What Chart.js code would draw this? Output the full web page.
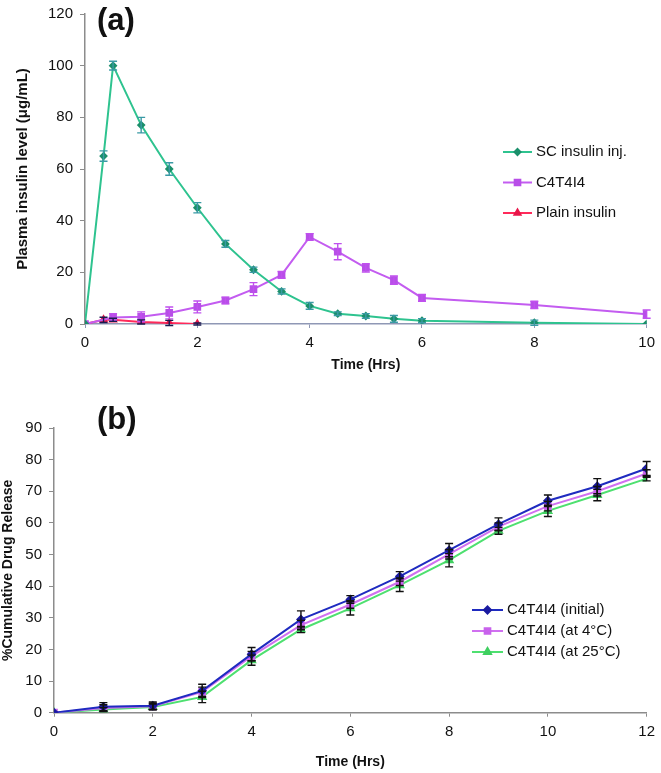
<!DOCTYPE html>
<html>
<head>
<meta charset="utf-8">
<script src="https://cdn.jsdelivr.net/npm/chart.js@4.4.1/dist/chart.umd.min.js"></script>
<style>
  body { margin: 0; background: #fff; width: 661px; height: 773px; overflow: hidden; position: relative; }
  #chartA { position: absolute; left: 0; top: -2px; }
  #chartB { position: absolute; left: 0; top: 380px; }
</style>
</head>
<body>
<canvas id="chartA" width="661" height="382"></canvas>
<canvas id="chartB" width="661" height="393"></canvas>
<script>
// ---- (a) plasma insulin data ----
const scTime    = [0, 0.33, 0.5, 1, 1.5, 2, 2.5, 3, 3.5, 4, 4.5, 5, 5.5, 6, 8, 10];
const scLevel   = [0, 65, 100, 77, 60, 45, 31, 21, 12.6, 7, 4, 3.1, 2, 1.3, 0.5, 0];
const scErr     = [0, 2, 1.7, 3, 2.4, 2, 1.3, 1, 1, 1.3, 0.7, 0.9, 1.3, 0.8, 1, 0];

const c4Time    = [0, 0.5, 1, 1.5, 2, 2.5, 3, 3.5, 4, 4.5, 5, 5.5, 6, 8, 10];
const c4Level   = [0, 2.5, 2.8, 4.3, 6.6, 9.1, 13.5, 19, 33.7, 28, 21.7, 17, 10.1, 7.4, 3.8];
const c4Err     = [0, 1.5, 1.9, 2.3, 2.3, 1.3, 2.5, 1.3, 1.3, 3.1, 1.6, 1.6, 1.3, 1.4, 1.6];

const plainTime  = [0, 0.33, 0.5, 1, 1.5, 2];
const plainLevel = [0, 1.6, 1.6, 0.8, 0.4, 0];
const plainErr   = [0, 1, 0.6, 0.8, 1, 0.4];

// ---- (b) release data ----
const relTime    = [0, 1, 2, 3, 4, 5, 6, 7, 8, 9, 10, 11, 12];
const relInitial = [0, 1.9, 2.2, 6.9, 18.5, 29.5, 35.8, 43.1, 51.4, 59.6, 67, 71.6, 77.2];
const relAt4     = [0, 1.5, 2, 6.6, 17.9, 27.7, 34.2, 41.4, 50.1, 58.8, 65.3, 70, 75.6];
const relAt25    = [0, 1, 1.8, 5, 16.6, 26.3, 33, 40.3, 48.2, 57.5, 63.8, 68.8, 74];
const errInitial = [0, 1.3, 1.2, 2.1, 2.1, 2.7, 1.2, 1.5, 2.1, 2, 1.8, 2.4, 2.2];
const err4       = [0, 1, 1, 1.5, 1.5, 1.5, 1.2, 1.2, 1.5, 1.2, 1.5, 1.5, 1.2];
const err25      = [0, 0.6, 0.9, 1.8, 1.6, 1, 2.1, 2, 2.1, 1.1, 1.8, 1.8, 0.7];

const FONT = "'Liberation Sans', Arial, sans-serif";

function pts(xs, ys) {
  return xs.map((x, i) => ({ x: x, y: ys[i] }));
}

// Felstaplar ritade med diagrammets egna skalor
const errorBars = {
  id: 'errorBars',
  afterDatasetsDraw(chart) {
    const { ctx, scales: { x, y } } = chart;
    chart.data.datasets.forEach(ds => {
      if (!ds.errors) return;
      ctx.save();
      ctx.strokeStyle = ds.errorColor;
      ctx.lineWidth = 1.4;
      ds.data.forEach((p, i) => {
        const e = ds.errors[i];
        if (!e) return;
        const px = x.getPixelForValue(p.x);
        const top = y.getPixelForValue(p.y + e);
        const bot = y.getPixelForValue(p.y - e);
        ctx.beginPath();
        ctx.moveTo(px, top); ctx.lineTo(px, bot);
        ctx.moveTo(px - 4, top); ctx.lineTo(px + 4, top);
        ctx.moveTo(px - 4, bot); ctx.lineTo(px + 4, bot);
        ctx.stroke();
      });
      ctx.restore();
    });
  }
};

// Egen legend + panelbokstav
const sideLegend = {
  id: 'sideLegend',
  afterDraw(chart, args, opts) {
    const ctx = chart.ctx;
    ctx.save();
    chart.data.datasets.forEach((ds, i) => {
      const y = opts.y + i * opts.gap;
      ctx.strokeStyle = ds.borderColor;
      ctx.lineWidth = 2;
      ctx.beginPath();
      ctx.moveTo(opts.x, y); ctx.lineTo(opts.x + opts.len, y);
      ctx.stroke();
      ctx.fillStyle = ds.pointBackgroundColor;
      ctx.strokeStyle = ds.pointBackgroundColor;
      Chart.helpers.drawPoint(ctx, {
        pointStyle: ds.pointStyle, radius: ds.pointRadius, rotation: 0, borderWidth: 1
      }, opts.x + opts.len / 2, y);
      ctx.fillStyle = '#111';
      ctx.font = '15px ' + FONT;
      ctx.textBaseline = 'middle';
      ctx.fillText(ds.label, opts.x + opts.len + 4, y);
    });
    ctx.font = 'bold 31px ' + FONT;
    ctx.fillStyle = '#111';
    ctx.textBaseline = 'middle';
    ctx.fillText(opts.panel, opts.px, opts.py);
    ctx.restore();
  }
};

function axes(xMax, yMax, yStep, xHeight, yWidth, axisColor, yTitle, yTitleSize, yTitlePad, xTitlePad) {
  return {
    x: {
      type: 'linear', min: 0, max: xMax,
      ticks: { stepSize: 2, color: '#111', font: { size: 15, family: FONT }, padding: 6, maxRotation: 0 },
      grid: { display: true, drawOnChartArea: false, drawTicks: true, tickLength: 4, color: axisColor },
      border: { color: axisColor, width: 1.5 },
      title: { display: true, text: 'Time (Hrs)', color: '#111',
               font: { size: 14, weight: 'bold', family: FONT }, padding: { top: 0, bottom: xTitlePad } },
      afterFit: s => { s.height = xHeight; }
    },
    y: {
      min: 0, max: yMax,
      ticks: { stepSize: yStep, color: '#111', font: { size: 15, family: FONT }, padding: 7 },
      grid: { display: true, drawOnChartArea: false, drawTicks: true, tickLength: 5, color: '#8c8c8c' },
      border: { color: '#8c8c8c', width: 1.5 },
      title: { display: true, text: yTitle, color: '#111',
               font: { size: yTitleSize, weight: 'bold', family: FONT }, padding: { top: yTitlePad, bottom: 0 } },
      afterFit: s => { s.width = yWidth; }
    }
  };
}

new Chart(document.getElementById('chartA'), {
  type: 'scatter',
  data: {
    datasets: [
      {
        label: 'SC insulin inj.', data: pts(scTime, scLevel), errors: scErr, errorColor: '#3a9aa5',
        showLine: true, borderColor: '#2ec38f', borderWidth: 2,
        pointStyle: 'rectRot', pointRadius: 3, pointBackgroundColor: '#1b8f6b', pointBorderColor: '#1b8f6b'
      },
      {
        label: 'C4T4I4', data: pts(c4Time, c4Level), errors: c4Err, errorColor: '#c050ee',
        showLine: true, borderColor: '#c35cf0', borderWidth: 2,
        pointStyle: 'rect', pointRadius: 4, pointBackgroundColor: '#b84ee8', pointBorderColor: '#b84ee8'
      },
      {
        label: 'Plain insulin', data: pts(plainTime, plainLevel), errors: plainErr, errorColor: '#1a1a50',
        showLine: true, borderColor: '#ff2a5a', borderWidth: 2,
        pointStyle: 'triangle', pointRadius: 3.5, pointBackgroundColor: '#e8174a', pointBorderColor: '#e8174a'
      }
    ]
  },
  options: {
    responsive: false, animation: false,
    layout: { padding: { top: 9, right: 11, left: 0, bottom: 0 } },
    plugins: {
      legend: { display: false }, tooltip: { enabled: false },
      sideLegend: { x: 503, y: 154, gap: 30.5, len: 29, panel: '(a)', px: 97, py: 23 }
    },
    scales: axes(10, 120, 20, 56, 85, '#8f98b5', 'Plasma insulin level (μg/mL)', 15, 14, 6.6)
  },
  plugins: [errorBars, sideLegend]
});

new Chart(document.getElementById('chartB'), {
  type: 'scatter',
  data: {
    datasets: [
      {
        label: 'C4T4I4 (initial)', data: pts(relTime, relInitial), errors: errInitial, errorColor: '#111',
        showLine: true, borderColor: '#1f2bc0', borderWidth: 2,
        pointStyle: 'rectRot', pointRadius: 3.5, pointBackgroundColor: '#1a1aa0', pointBorderColor: '#1a1aa0'
      },
      {
        label: 'C4T4I4 (at 4°C)', data: pts(relTime, relAt4), errors: err4, errorColor: '#111',
        showLine: true, borderColor: '#d070f0', borderWidth: 2,
        pointStyle: 'rect', pointRadius: 4, pointBackgroundColor: '#c862ec', pointBorderColor: '#c862ec'
      },
      {
        label: 'C4T4I4 (at 25°C)', data: pts(relTime, relAt25), errors: err25, errorColor: '#111',
        showLine: true, borderColor: '#4ee070', borderWidth: 2,
        pointStyle: 'triangle', pointRadius: 4, pointBackgroundColor: '#3fcf60', pointBorderColor: '#3fcf60'
      }
    ]
  },
  options: {
    responsive: false, animation: false,
    layout: { padding: { top: 48, right: 11, left: 0, bottom: 0 } },
    plugins: {
      legend: { display: false }, tooltip: { enabled: false },
      sideLegend: { x: 472, y: 230, gap: 21, len: 31, panel: '(b)', px: 97, py: 40 }
    },
    scales: axes(12, 90, 10, 60.3, 54, '#8c8c8c', '%Cumulative Drug Release', 14, 0, 2.6)
  },
  plugins: [errorBars, sideLegend]
});
</script>
</body>
</html>
